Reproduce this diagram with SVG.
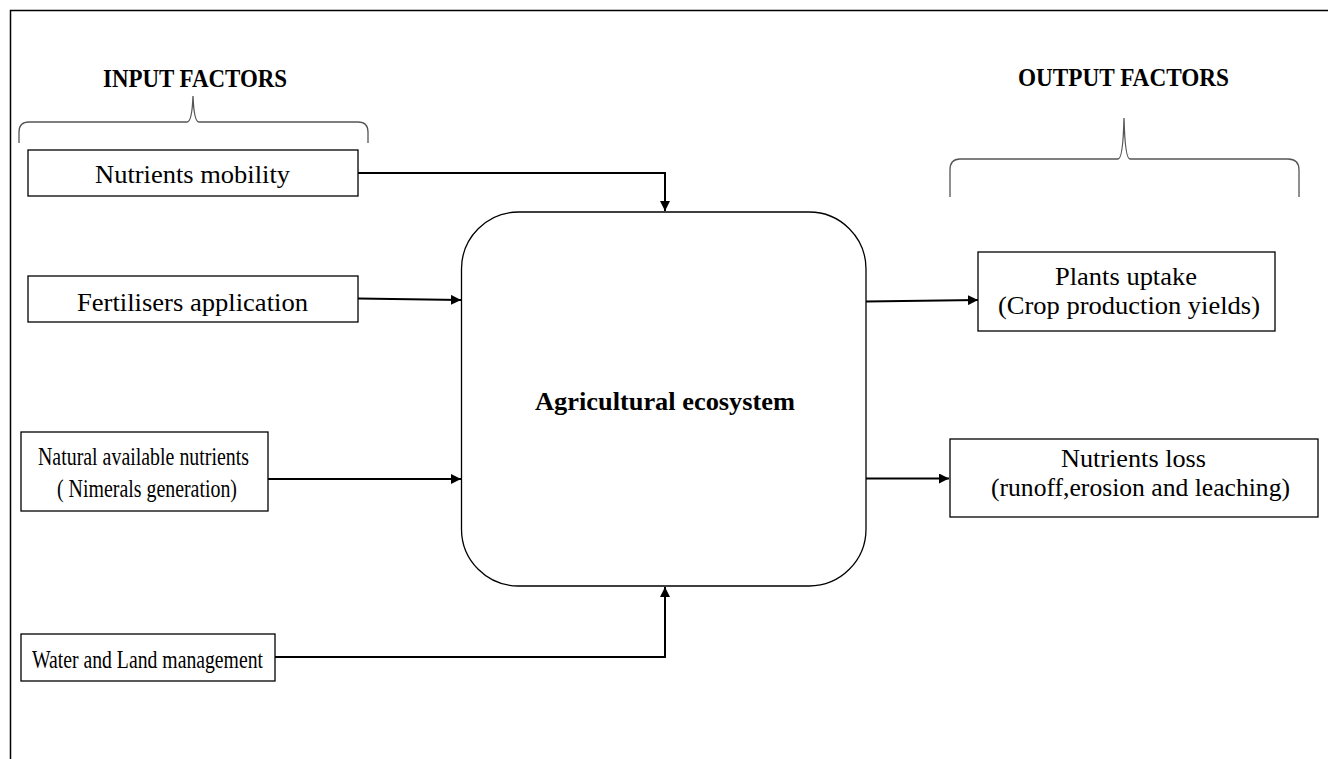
<svg xmlns="http://www.w3.org/2000/svg" width="1328" height="759" viewBox="0 0 1328 759">
<defs>
<style>
.box{fill:#fff;stroke:#000;stroke-width:1.3}
.t{font-family:"Liberation Serif","Times New Roman",serif;font-size:26px;fill:#000}
.b{font-weight:bold}
.c{fill:none;stroke:#000;stroke-width:2}
.br{fill:none;stroke:#555;stroke-width:1.3}
</style>
<marker id="ah" viewBox="0 0 10 10" refX="10" refY="5" markerWidth="5" markerHeight="5" orient="auto" markerUnits="strokeWidth">
<path d="M0,0 L10,5 L0,10 z" fill="#000"/>
</marker>
</defs>
<rect width="1328" height="759" fill="#fff"/>
<path d="M10.5,759 V10.5 H1328" fill="none" stroke="#000" stroke-width="1.5"/>

<g id="input-header">
<text class="t b" x="103" y="87" font-size="22" textLength="184" lengthAdjust="spacingAndGlyphs">INPUT FACTORS</text>
<path class="br" d="M19,143 V132 Q19,122 29,122 H187 Q192,122 193,96 Q194,122 199,122 H358 Q368,122 368,132 V143"/>
</g>
<g id="output-header">
<text class="t b" x="1018" y="86" font-size="22" textLength="211" lengthAdjust="spacingAndGlyphs">OUTPUT FACTORS</text>
<path class="br" d="M950,197 V170 Q950,159 960,159 H1118 Q1123,159 1124,118 Q1125,159 1130,159 H1288 Q1299,159 1299,170 V197"/>
</g>

<g id="n-mobility">
<rect class="box" x="28" y="150" width="330" height="46"/>
<text class="t" x="95" y="183" textLength="195" lengthAdjust="spacingAndGlyphs">Nutrients mobility</text>
</g>
<g id="n-fertilisers">
<rect class="box" x="28" y="276" width="330" height="46"/>
<text class="t" x="77" y="311" textLength="231" lengthAdjust="spacingAndGlyphs">Fertilisers application</text>
</g>
<g id="n-natural">
<rect class="box" x="21" y="432" width="247" height="79"/>
<text class="t" x="38" y="465" textLength="211" lengthAdjust="spacingAndGlyphs">Natural available nutrients</text>
<text class="t" x="57" y="497" textLength="180" lengthAdjust="spacingAndGlyphs">( Nimerals generation)</text>
</g>
<g id="n-water">
<rect class="box" x="21" y="634" width="254" height="47"/>
<text class="t" x="32" y="668" textLength="231" lengthAdjust="spacingAndGlyphs">Water and Land management</text>
</g>
<g id="n-ecosystem">
<rect class="box" x="461.5" y="212" width="404.5" height="374" rx="57" ry="57"/>
<text class="t b" x="535" y="410" textLength="260" lengthAdjust="spacingAndGlyphs">Agricultural ecosystem</text>
</g>
<g id="n-plants">
<rect class="box" x="978" y="252" width="297" height="79"/>
<text class="t" x="1055" y="285" textLength="142" lengthAdjust="spacingAndGlyphs">Plants uptake</text>
<text class="t" x="998" y="314" textLength="262" lengthAdjust="spacingAndGlyphs">(Crop production yields)</text>
</g>
<g id="n-loss">
<rect class="box" x="950" y="439" width="368" height="78"/>
<text class="t" x="1061" y="467" font-size="25" textLength="145" lengthAdjust="spacingAndGlyphs">Nutrients loss</text>
<text class="t" x="991" y="496" font-size="25" textLength="299" lengthAdjust="spacingAndGlyphs">(runoff,erosion and leaching)</text>
</g>

<g id="connectors">
<path class="c" d="M358,173 H665 V211" marker-end="url(#ah)"/>
<path class="c" d="M358,298.5 L461,300" marker-end="url(#ah)"/>
<path class="c" d="M268,479 H461" marker-end="url(#ah)"/>
<path class="c" d="M275,657 H665 V587" marker-end="url(#ah)"/>
<path class="c" d="M866,301.5 L978,300" marker-end="url(#ah)"/>
<path class="c" d="M866,478.5 H949" marker-end="url(#ah)"/>
</g>
</svg>
